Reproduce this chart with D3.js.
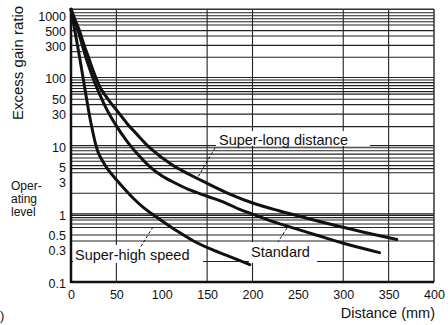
<!DOCTYPE html>
<html><head><meta charset="utf-8">
<script src="https://cdn.jsdelivr.net/npm/d3@7"></script>
<style>
html,body{margin:0;padding:0;background:#fff;}
svg{display:block;font-family:"Liberation Sans",Arial,Helvetica,sans-serif;}
</style></head>
<body>
<svg id="chart" width="448" height="325"></svg>
<script>
// ---- data ----
const distTicks = [0, 50, 100, 150, 200, 250, 300, 350, 400];
const gainTicks = [1000, 500, 300, 100, 50, 30, 10, 5, 3, 1, 0.5, 0.3, 0.1];
const vGrid = [50, 150, 200, 300, 350];
const hGrid = [891, 806, 728, 658, 589, 486, 406, 296, 198,
               100, 92, 84, 76, 69, 62, 57, 48, 40, 29, 19,
               10, 9.3, 8.4, 7.5, 6.6, 5.9, 5.1, 4.6, 4.0, 2.0,
               1, 0.95, 0.88, 0.81, 0.71, 0.63, 0.49, 0.40, 0.2];
const stubGrid = [239];

const seriesNames = ["Super-high speed", "Standard", "Super-long distance"];
const distSH = [0, 3, 6, 9, 12, 15, 18, 21, 24, 27, 30, 34, 40, 50, 60, 70, 80, 89, 100, 115, 135, 155, 175, 197];
const gainSH = [1000, 600, 360, 214, 126, 72, 42, 25, 16, 10.7, 7.9, 6.2, 4.6, 3.16, 2.24, 1.62, 1.23, 1.0, 0.79, 0.58, 0.40, 0.30, 0.235, 0.18];
const distST = [0, 7, 14, 20, 26, 32, 38, 44, 50, 56, 63, 75, 87, 100, 115, 130, 150, 170, 186, 201, 220, 240, 270, 300, 340];
const gainST = [1000, 525, 251, 141, 85, 55, 37, 26.3, 19.5, 14.8, 11.0, 7.1, 4.9, 3.63, 2.82, 2.26, 1.81, 1.45, 1.16, 0.98, 0.79, 0.65, 0.49, 0.37, 0.27];
const distSL = [0, 4.5, 9, 14, 18.4, 25, 32, 38, 44, 52, 62, 72, 87, 110, 130, 150, 175, 201, 230, 260, 296, 330, 359];
const gainSL = [1000, 700, 500, 310, 214, 120, 72, 54, 42, 31, 21, 15, 9.3, 5.4, 3.8, 2.8, 1.95, 1.43, 1.1, 0.86, 0.65, 0.51, 0.42];

// ---- drawing ----
const svg = d3.select("#chart");
const x = d3.scaleLinear().domain([0, 400]).range([71, 434]);
const y = d3.scaleLog().domain([0.1, 1000]).range([282, 9.3]);
const ink = "#111";

// grid
const g = svg.append("g");
g.selectAll("line.h").data(hGrid).join("line")
  .attr("x1", x(0)).attr("x2", x(400))
  .attr("y1", d => y(d)).attr("y2", d => y(d))
  .attr("stroke", "#222").attr("stroke-width", 1.1);
g.selectAll("line.s").data(stubGrid).join("line")
  .attr("x1", x(0)).attr("x2", x(12))
  .attr("y1", d => y(d)).attr("y2", d => y(d))
  .attr("stroke", "#222").attr("stroke-width", 1.1);
g.selectAll("line.v").data(vGrid).join("line")
  .attr("x1", d => x(d)).attr("x2", d => x(d))
  .attr("y1", y(1000)).attr("y2", y(0.1))
  .attr("stroke", "#222").attr("stroke-width", 1.1);

// label boxes (hide grid behind labels)
const labels = [
  {t: seriesNames[2], x: 219, y: 145, bx: 216, by: 131, bw: 154, bh: 15},
  {t: seriesNames[0], x: 75, y: 260, bx: 73, by: 245, bw: 130, bh: 18},
  {t: seriesNames[1], x: 251, y: 257, bx: 249, by: 242, bw: 68, bh: 21}
];
labels.forEach(l => {
  svg.append("rect").attr("x", l.bx).attr("y", l.by).attr("width", l.bw).attr("height", l.bh).attr("fill", "#fff");
});

// frame
svg.append("line").attr("x1", x(0)).attr("x2", x(400)).attr("y1", y(1000)).attr("y2", y(1000))
  .attr("stroke", "#333").attr("stroke-width", 1.5);
svg.append("line").attr("x1", x(400)).attr("x2", x(400)).attr("y1", y(1000)).attr("y2", y(0.1))
  .attr("stroke", "#333").attr("stroke-width", 1.5);
svg.append("line").attr("x1", x(0)).attr("x2", x(0)).attr("y1", y(1000)).attr("y2", y(0.1) + 1)
  .attr("stroke", ink).attr("stroke-width", 2.5);
svg.append("line").attr("x1", x(0) - 1).attr("x2", x(400)).attr("y1", y(0.1)).attr("y2", y(0.1))
  .attr("stroke", ink).attr("stroke-width", 2.5);

// curves
const line = d3.line().x(d => x(d[0])).y(d => y(d[1])).curve(d3.curveCatmullRom.alpha(0.5));
const series = [d3.zip(distSH, gainSH), d3.zip(distST, gainST), d3.zip(distSL, gainSL)];
svg.selectAll("path.curve").data(series).join("path")
  .attr("d", line).attr("fill", "none").attr("stroke", ink)
  .attr("stroke-width", 3).attr("stroke-linecap", "round").attr("stroke-linejoin", "round");

// label texts
labels.forEach(l => {
  svg.append("text").attr("x", l.x).attr("y", l.y).attr("font-size", 14.5).attr("fill", ink).text(l.t);
});
// leaders
const leaders = [[215, 148, 198, 177], [153, 227, 140, 248], [287, 228, 278, 242]];
svg.selectAll("line.lead").data(leaders).join("line")
  .attr("x1", d => d[0]).attr("y1", d => d[1]).attr("x2", d => d[2]).attr("y2", d => d[3])
  .attr("stroke", ink).attr("stroke-width", 1).attr("stroke-dasharray", "3,2");

// axes
const xAxis = d3.axisBottom(x).tickValues(distTicks).tickSize(0).tickPadding(6).tickFormat(d3.format("d"));
svg.append("g").attr("transform", `translate(0,${y(0.1) + 2})`).call(xAxis)
  .call(s => s.select(".domain").remove())
  .selectAll("text").attr("font-size", 12.5).attr("fill", ink).attr("font-family", "Liberation Sans, Arial, sans-serif");

const yAxis = d3.axisLeft(y).tickValues(gainTicks).tickSize(0).tickPadding(4)
  .tickFormat(d => d < 1 ? d.toString() : d3.format("d")(d));
svg.append("g").attr("transform", `translate(${x(0) - 1},1.5)`).call(yAxis)
  .call(s => s.select(".domain").remove())
  .selectAll("text").attr("font-size", 12.5).attr("fill", ink).attr("font-family", "Liberation Sans, Arial, sans-serif")
  .attr("dy", (d) => d === 1000 ? "0.75em" : "0.32em");

// titles
svg.append("text").attr("x", 435).attr("y", 318).attr("text-anchor", "end")
  .attr("font-size", 14.5).attr("fill", ink).text("Distance (mm)");
svg.append("text").attr("transform", "translate(23,63) rotate(-90)").attr("text-anchor", "middle")
  .attr("font-size", 15).attr("fill", ink).text("Excess gain ratio");
["Oper-", "ating", "level"].forEach((t, i) => {
  svg.append("text").attr("x", 11).attr("y", 190 + i * 13).attr("font-size", 12).attr("fill", ink).text(t);
});
svg.append("text").attr("x", 0).attr("y", 320).attr("font-size", 13).attr("fill", ink).text(")");
</script>
</body></html>
